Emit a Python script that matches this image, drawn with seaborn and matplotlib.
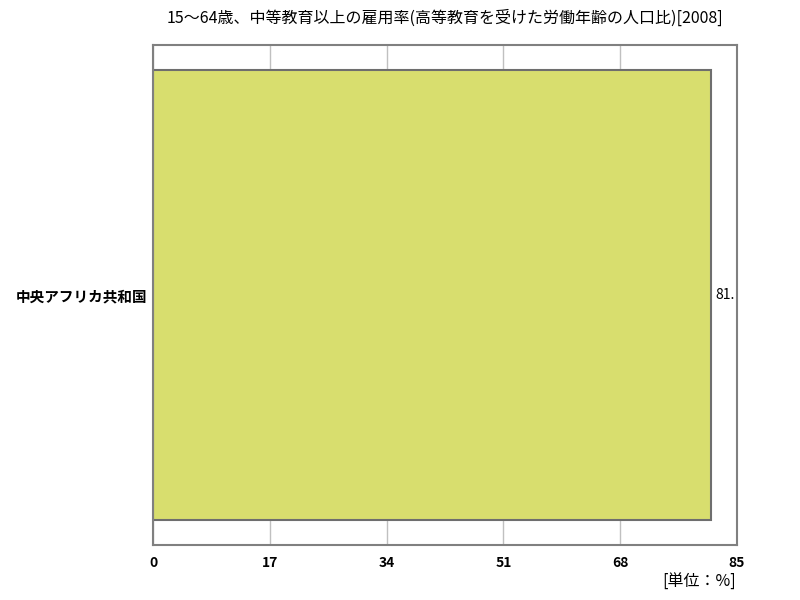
import matplotlib
matplotlib.use("Agg")
import matplotlib.pyplot as plt
import seaborn as sns
import pandas as pd

title = "15～64歳、中等教育以上の雇用率(高等教育を受けた労働年齢の人口比)[2008]"
categories = ["中央アフリカ共和国"]
values = [81.2]
value_labels = ["81."]
xticks = [0, 17, 34, 51, 68, 85]
unit = "[単位：%]"

sns.set_theme(style="white")
plt.rcParams['font.family'] = ['Noto Sans CJK JP', 'DejaVu Sans']
plt.rcParams['text.color'] = 'black'
plt.rcParams['xtick.color'] = 'black'
plt.rcParams['ytick.color'] = 'black'

df = pd.DataFrame({"country": categories, "value": values})

fig = plt.figure(figsize=(8, 6), dpi=100)
ax = fig.add_axes([0.19125, 0.0917, 0.73, 0.8333])

sns.barplot(data=df, x="value", y="country", orient="h", color="#d8de6e",
            saturation=1, width=0.9, edgecolor="#6e6e6e", linewidth=1.5, ax=ax)

ax.set_xlim(0, 85)
ax.set_ylim(0.5, -0.5)
ax.set_xticks(xticks)
ax.set_xticklabels([str(t) for t in xticks], fontsize=10, fontweight="bold")
ax.set_xlabel("")
ax.set_ylabel("")
ax.tick_params(axis="both", length=0, pad=8)
for lab in ax.get_yticklabels():
    lab.set_fontsize(10.5)
    lab.set_fontweight("bold")
ax.tick_params(axis="y", pad=4)
ax.xaxis.grid(True, color="#c0c0c0", linewidth=1)
ax.yaxis.grid(False)
ax.set_axisbelow(True)
for s in ax.spines.values():
    s.set_color("#808080")
    s.set_linewidth(1.5)

ax.bar_label(ax.containers[0], labels=value_labels, padding=3, fontsize=10)

ax.set_title(title, fontsize=11.5, pad=16, color="black")
fig.text(0.92, 0.03, unit, ha="right", va="center", fontsize=11.5)

fig.savefig("out.png", dpi=100)
